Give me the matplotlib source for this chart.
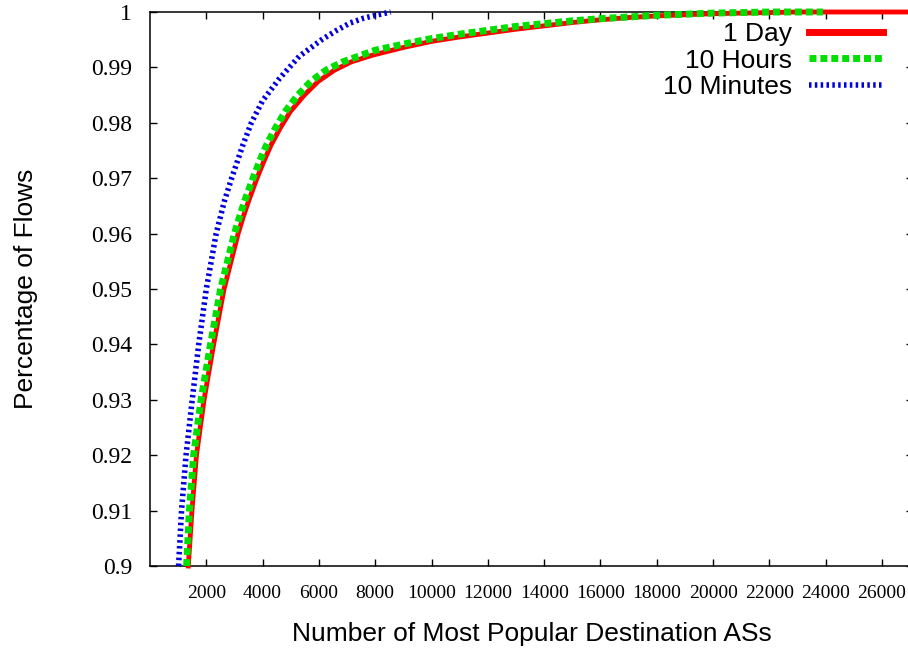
import numpy as np
import matplotlib
matplotlib.use('Agg')
import matplotlib.pyplot as plt
from matplotlib.ticker import FixedLocator

# CDF of flows covered by the most popular destination ASes
day_x = [1360, 1490, 1650, 1920, 2260, 2630, 3130, 3310, 3510, 3800,
         4040, 4300, 4620, 4980, 5480, 5980, 6550, 7150, 7900, 9000,
         10000, 11000, 12000, 13000, 14000, 15000, 16000, 17000, 18000, 19000,
         20000, 21000, 22000, 23000, 27000]
day_y = [0.900, 0.910, 0.920, 0.930, 0.940, 0.950, 0.960, 0.963, 0.966, 0.970,
         0.973, 0.976, 0.979, 0.982, 0.985, 0.9875, 0.9895, 0.991, 0.9922, 0.9936,
         0.9947, 0.9955, 0.9962, 0.9969, 0.9975, 0.9981, 0.9986, 0.9990, 0.9993, 0.9995,
         0.9997, 0.9998, 0.9999, 1.000, 1.000]

hours_x = [1300, 1400, 1550, 1815, 2150, 2510, 3000, 3180, 3370, 3660,
           3890, 4140, 4450, 4800, 5250, 5720, 6250, 6850, 8000, 9000,
           10000, 11000, 12000, 13000, 14000, 15000, 16000, 17000, 18000, 19000,
           20000, 21000, 22000, 23900]
hours_y = [0.900, 0.910, 0.920, 0.930, 0.940, 0.950, 0.960, 0.963, 0.966, 0.970,
           0.973, 0.976, 0.979, 0.982, 0.985, 0.9875, 0.9895, 0.991, 0.9931, 0.9942,
           0.9952, 0.9960, 0.9967, 0.9974, 0.9979, 0.9984, 0.9988, 0.9991, 0.9994, 0.9996,
           0.9998, 0.9999, 1.000, 1.000]

mins_x = [1015, 1120, 1280, 1500, 1730, 2000, 2350, 2500, 2650, 2900,
          3100, 3300, 3450, 3600, 3800, 4000, 4300, 4600, 4950, 5300,
          5700, 6100, 6600, 7100, 7600, 8100, 8550]
mins_y = [0.900, 0.910, 0.920, 0.930, 0.940, 0.950, 0.960, 0.963, 0.966, 0.970,
          0.973, 0.976, 0.978, 0.980, 0.982, 0.984, 0.986, 0.988, 0.990, 0.992,
          0.9935, 0.995, 0.9966, 0.998, 0.9989, 0.9995, 1.000]

xticks = np.arange(2000, 26001, 2000)
yticks = np.arange(0.90, 1.0001, 0.01)

fig = plt.figure(figsize=(9.08, 6.48), dpi=100)
ax = fig.add_axes([150/908, 1 - 566/648, 763/908, 554/648])

ax.plot(day_x, day_y, c='#ff0000', lw=3.5, label='1 Day', clip_on=False, zorder=3)
ax.plot(hours_x, hours_y, c='#00e000', lw=5, dashes=(1.0, 0.57), label='10 Hours',
        clip_on=False, zorder=4)
ax.plot(mins_x, mins_y, c='#0000e0', lw=4, dashes=(0.45, 0.6), label='10 Minutes',
        clip_on=False, zorder=5)

ax.set_xlim(0, 27100)
ax.set_ylim(0.9, 1.0)
ax.xaxis.set_major_locator(FixedLocator(xticks))
ax.yaxis.set_major_locator(FixedLocator(yticks))
ax.set_yticklabels(['%g' % round(v, 2) for v in yticks])

for s in ax.spines.values():
    s.set_linewidth(1.1)
ax.tick_params(direction='in', length=5, width=1, top=True, right=True)
ax.tick_params(axis='x', labelsize=14, pad=14)
ax.tick_params(axis='y', labelsize=17, pad=13)
for lab in ax.get_xticklabels() + ax.get_yticklabels():
    lab.set_family('Liberation Serif')

ax.set_xlabel('Number of Most Popular Destination ASs', fontsize=19,
              family='Liberation Sans', labelpad=14)
ax.set_ylabel('Percentage of Flows', fontsize=19, family='Liberation Sans')
ax.yaxis.set_label_coords(-0.147, 0.5)

leg = ax.legend(loc='upper right', bbox_to_anchor=(883/908, 1 - 22/648),
                bbox_transform=fig.transFigure, frameon=False, markerfirst=False,
                prop={'family': 'Liberation Sans', 'size': 19},
                handlelength=2.8, handletextpad=0.65, labelspacing=0.1,
                borderpad=0, borderaxespad=0)
leg.get_lines()[0].set_linewidth(5)

fig.savefig('out.png', dpi=100)
